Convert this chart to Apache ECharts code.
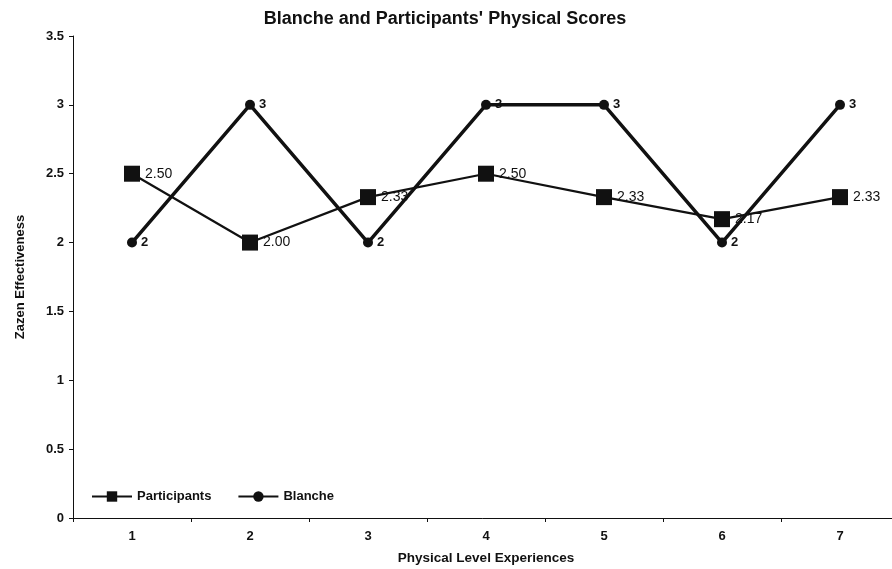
<!DOCTYPE html>
<html>
<head>
<meta charset="utf-8">
<script src="https://cdn.jsdelivr.net/npm/echarts@6/dist/echarts.min.js"></script>
<style>
  html, body { margin: 0; padding: 0; background: #fff; }
  #chart { width: 892px; height: 569px; }
</style>
</head>
<body>
<div id="chart"></div>
<script>
// Physical level experiences on the x axis
const levels = ['1', '2', '3', '4', '5', '6', '7'];
// Average score of the participant group
const participants = [2.50, 2.00, 2.33, 2.50, 2.33, 2.17, 2.33];
// Blanche's own scores
const blanche = [2, 3, 2, 3, 3, 2, 3];

const FONT = '"Liberation Sans", Arial, sans-serif';
const INK = '#111';

const chart = echarts.init(document.getElementById('chart'), null, { renderer: 'canvas' });

chart.setOption({
  backgroundColor: '#fff',
  animation: false,
  title: {
    text: "Blanche and Participants' Physical Scores",
    left: 440,
    textAlign: 'center',
    top: 5,
    textStyle: { fontFamily: FONT, fontSize: 18, fontWeight: 'bold', color: INK }
  },
  legend: {
    left: 86,
    top: 485,
    itemWidth: 40,
    itemHeight: 13,
    itemGap: 26,
    textStyle: { fontFamily: FONT, fontSize: 13, fontWeight: 'bold', color: INK },
    data: ['Participants', 'Blanche']
  },
  grid: { left: 73, right: -7, top: 36, bottom: 51, outerBoundsMode: 'none', containLabel: false },
  xAxis: {
    type: 'category',
    data: levels,
    boundaryGap: true,
    name: 'Physical Level Experiences',
    nameLocation: 'middle',
    nameGap: 33,
    nameTextStyle: { fontFamily: FONT, fontSize: 13.5, fontWeight: 'bold', color: INK },
    axisLine: { lineStyle: { color: INK, width: 1 } },
    axisTick: { show: true, inside: false, length: 4, lineStyle: { color: INK } },
    axisLabel: { fontFamily: FONT, fontSize: 13, fontWeight: 'bold', color: INK, margin: 12 },
    splitLine: { show: false }
  },
  yAxis: {
    type: 'value',
    min: 0,
    max: 3.5,
    interval: 0.5,
    name: 'Zazen Effectiveness',
    nameLocation: 'middle',
    nameGap: 46,
    nameRotate: 90,
    nameTextStyle: { fontFamily: FONT, fontSize: 13, fontWeight: 'bold', color: INK },
    axisLine: { show: true, lineStyle: { color: INK, width: 1 } },
    axisTick: { show: true, length: 4, lineStyle: { color: INK } },
    axisLabel: { fontFamily: FONT, fontSize: 13, fontWeight: 'bold', color: INK, margin: 9 },
    splitLine: { show: false }
  },
  series: [
    {
      name: 'Participants',
      type: 'line',
      data: participants,
      symbol: 'rect',
      symbolSize: 16,
      itemStyle: { color: INK },
      lineStyle: { color: INK, width: 2.2 },
      label: {
        show: true,
        position: 'right',
        distance: 5,
        formatter: p => p.value.toFixed(2),
        fontFamily: FONT, fontSize: 14, color: INK
      },
      z: 3
    },
    {
      name: 'Blanche',
      type: 'line',
      data: blanche,
      symbol: 'circle',
      symbolSize: 10,
      itemStyle: { color: INK },
      lineStyle: { color: INK, width: 3.5 },
      label: {
        show: true,
        position: 'right',
        distance: 4,
        formatter: p => String(p.value),
        fontFamily: FONT, fontSize: 13, fontWeight: 'bold', color: INK
      },
      z: 2
    }
  ]
});
</script>
</body>
</html>
